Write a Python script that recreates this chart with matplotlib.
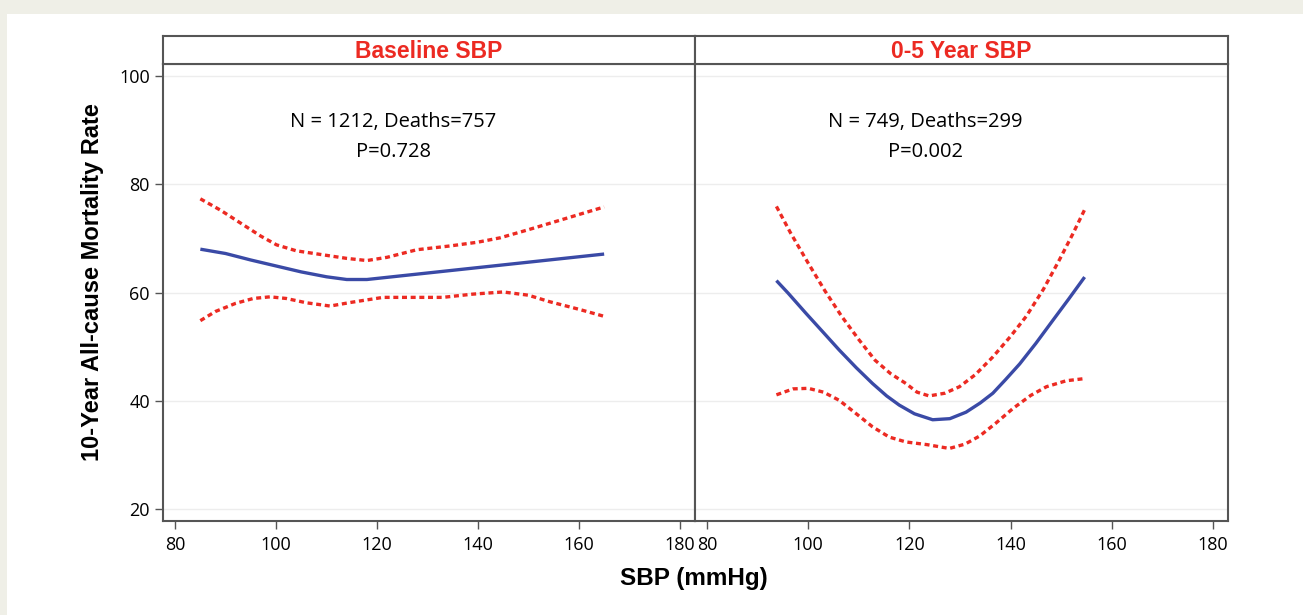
import matplotlib
matplotlib.use("Agg")
import matplotlib.pyplot as plt
from matplotlib.patches import Rectangle

plt.rcParams['font.family'] = ['Open Sans', 'DejaVu Sans']

# ---------------------------------------------------------------- data
panel_titles = ["Baseline SBP", "0-5 Year SBP"]
panel_n = ["N = 1212, Deaths=757", "N = 749, Deaths=299"]
panel_p = ["P=0.728", "P=0.002"]

# Baseline SBP panel: fit and 95% band
base_x = [85, 90, 95, 100, 105, 110, 114, 118, 122, 128, 134, 140, 146, 152, 158, 165]
base_fit = [68.0, 67.2, 66.0, 64.9, 63.8, 62.9, 62.4, 62.4, 62.8, 63.4, 64.0, 64.6, 65.2, 65.8, 66.4, 67.1]
base_up_x = [85, 89, 93, 97, 100.1, 104, 109, 114, 118, 122, 127.9, 134.5, 140, 144.4, 150, 155, 160, 165]
base_up = [77.3, 75.2, 72.8, 70.4, 68.8, 67.7, 67.0, 66.3, 65.9, 66.5, 67.9, 68.6, 69.3, 70.1, 71.6, 73.0, 74.4, 75.8]
base_lo_x = [85, 88, 92, 95.5, 98.8, 102, 106, 110.7, 115, 121.2, 127, 133, 139, 145, 150, 154.2, 160, 165]
base_lo = [54.8, 56.5, 58.0, 58.9, 59.2, 58.9, 58.1, 57.5, 58.2, 59.1, 59.1, 59.1, 59.7, 60.1, 59.5, 58.3, 56.9, 55.6]

# 0-5 year SBP panel: fit and 95% band
yr5_x = [93.7, 96, 99.5, 103, 106.1, 109.5, 112.7, 115.5, 118, 121, 124.6, 128, 131.2, 134,
         136.5, 139, 141.8, 145, 148.4, 151.5, 154.65]
yr5_fit = [62.2, 59.9, 56.2, 52.6, 49.4, 46.1, 43.2, 40.9, 39.2, 37.6, 36.5, 36.7, 37.9, 39.6,
           41.4, 43.9, 46.8, 50.6, 54.9, 58.8, 62.85]
yr5_up_x = [93.7, 96.5, 100, 103.3, 106.6, 110, 113.2, 116.3, 119.3, 121.5, 123.9, 127, 129.9,
            133, 136.5, 140, 143.1, 146.5, 149.7, 152.3, 154.65]
yr5_up = [75.9, 71.0, 65.4, 60.3, 55.6, 51.3, 47.5, 45.0, 43.2, 41.6, 40.9, 41.4, 42.6,
          44.8, 48.1, 51.9, 55.6, 60.6, 66.1, 70.8, 75.3]
yr5_lo_x = [93.7, 97, 100, 103, 106.1, 109.5, 112.7, 116, 119.3, 123.5, 127.9, 131, 133.9,
            137, 140.5, 144, 147.1, 151, 154.65]
yr5_lo = [41.1, 42.2, 42.3, 41.6, 40.1, 37.6, 35.2, 33.3, 32.4, 31.9, 31.2, 32.0, 33.5,
          35.8, 38.6, 41.0, 42.6, 43.7, 44.1]

panels = [
    (base_x, base_fit, base_up_x, base_up, base_lo_x, base_lo),
    (yr5_x, yr5_fit, yr5_up_x, yr5_up, yr5_lo_x, yr5_lo),
]

x_ticks = [80, 100, 120, 140, 160, 180]
y_ticks = [20, 40, 60, 80, 100]

# ---------------------------------------------------------------- style
BLUE = "#3a4aa6"
RED = "#ec2a22"
FRAME = "#555555"
BOLD = ['Liberation Sans', 'DejaVu Sans']
W, H = 1303, 615

fig = plt.figure(figsize=(W / 100, H / 100), dpi=100)
fig.patch.set_facecolor("#efefe7")
fig.patches.append(Rectangle((7 / W, 0), 1, 1 - 14 / H, transform=fig.transFigure,
                             facecolor="white", edgecolor="none", zorder=-10))

lefts = [163, 695]
rights = [695, 1228]
top_px, strip_px, bottom_px = 36, 64, 521

for i, (xs, fit, ux, up, lx, lo) in enumerate(panels):
    l, r = lefts[i], rights[i]
    ax = fig.add_axes([l / W, 1 - bottom_px / H, (r - l) / W, (bottom_px - strip_px) / H])
    ax.set_xlim(77.6, 183)
    ax.set_ylim(17.8, 102.2)
    ax.set_xticks(x_ticks)
    ax.set_yticks(y_ticks)
    ax.grid(axis="y", color="#ededed", lw=1)
    ax.set_axisbelow(True)
    ax.plot(xs, fit, color=BLUE, lw=2.4, solid_capstyle="butt", solid_joinstyle="round")
    ax.plot(ux, up, color=RED, lw=2.4, linestyle=(0, (1.5, 1.1)))
    ax.plot(lx, lo, color=RED, lw=2.4, linestyle=(0, (1.5, 1.1)))
    ax.text(123.2, 91.4, panel_n[i], ha="center", va="center", fontsize=14.5)
    ax.text(123.2, 86.0, panel_p[i], ha="center", va="center", fontsize=14.5)
    for s in ax.spines.values():
        s.set_color(FRAME)
        s.set_linewidth(1.5)
    ax.tick_params(colors=FRAME, labelcolor="black", labelsize=13, length=6, width=1)
    ax.tick_params(axis="x", pad=5)
    if i == 1:
        ax.tick_params(axis="y", left=False, labelleft=False)

    strip = fig.add_axes([l / W, 1 - strip_px / H, (r - l) / W, (strip_px - top_px) / H])
    strip.set_xticks([])
    strip.set_yticks([])
    for s in strip.spines.values():
        s.set_color(FRAME)
        s.set_linewidth(1.5)
    strip.text(0.5, 0.45, panel_titles[i], ha="center", va="center", color=RED, family=BOLD,
               fontsize=16.5, fontweight="bold", transform=strip.transAxes)

fig.text(93 / W, 1 - 282 / H, "10-Year All-cause Mortality Rate", rotation=90, ha="center",
         va="center", fontsize=17, fontweight="bold", family=BOLD)
fig.text(694 / W, 1 - 578 / H, "SBP (mmHg)", ha="center", va="center", fontsize=17.5,
         fontweight="bold", family=BOLD)

fig.savefig("out.png", dpi=100, facecolor=fig.get_facecolor())
